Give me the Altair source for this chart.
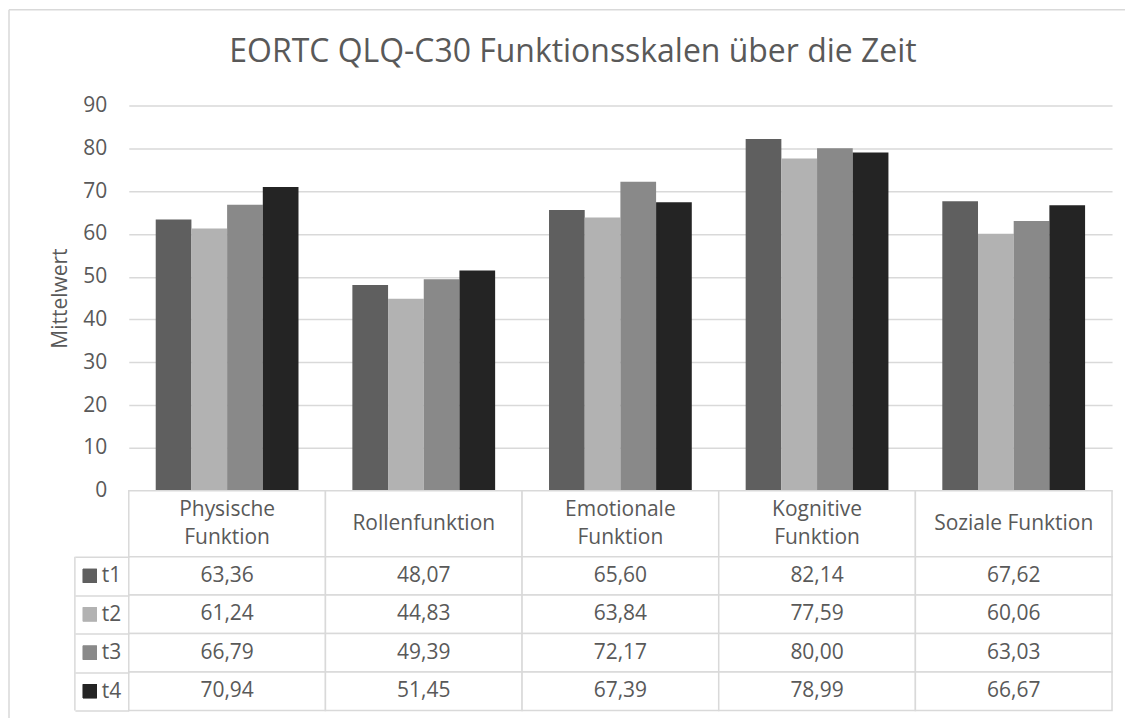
import altair as alt
import pandas as pd

categories = ["Physische Funktion", "Rollenfunktion", "Emotionale Funktion",
              "Kognitive Funktion", "Soziale Funktion"]
header_line1 = ["Physische", "Rollenfunktion", "Emotionale", "Kognitive", "Soziale Funktion"]
header_line2 = ["Funktion", "", "Funktion", "Funktion", ""]
series = ["t1", "t2", "t3", "t4"]
t1 = [63.36, 48.07, 65.60, 82.14, 67.62]
t2 = [61.24, 44.83, 63.84, 77.59, 60.06]
t3 = [66.79, 49.39, 72.17, 80.00, 63.03]
t4 = [70.94, 51.45, 67.39, 78.99, 66.67]
colors = ["#5f5f5f", "#b2b2b2", "#898989", "#242424"]

FONT = "Open Sans"
FS = 21
TXT = "#595959"
LINE = "#d9d9d9"

rows = []
for s, vals in zip(series, [t1, t2, t3, t4]):
    for c, v in zip(categories, vals):
        rows.append({"category": c, "series": s, "value": v,
                     "label": f"{v:.2f}".replace(".", ",")})
df = pd.DataFrame(rows)
df_head = pd.DataFrame({"category": categories, "l1": header_line1, "l2": header_line2})
df_head["two"] = df_head["l2"] != ""

W = 985
color = alt.Color("series:N", scale=alt.Scale(domain=series, range=colors), legend=None)

bar_chart = alt.Chart(df).mark_bar().encode(
    x=alt.X("category:N", sort=categories,
            scale=alt.Scale(paddingInner=0.274, paddingOuter=0.137), axis=None),
    xOffset=alt.XOffset("series:N", sort=series),
    y=alt.Y("value:Q", scale=alt.Scale(domain=[0, 90], nice=False),
            axis=alt.Axis(values=list(range(0, 91, 10)), title="Mittelwert",
                          grid=True, gridColor=LINE, gridWidth=1.5,
                          domain=False, ticks=False, labelPadding=22,
                          labelFontSize=FS, labelColor=TXT, labelFont=FONT,
                          titleFontSize=FS, titleColor=TXT, titleFont=FONT,
                          titleFontWeight="normal", titlePadding=12)),
    color=color,
)

# outer chart frame (left and top edges)
frame_left = alt.Chart(df_head.head(1)).mark_rule(color=LINE, strokeWidth=1.5).encode(
    x=alt.value(-120), y=alt.value(-96), y2=alt.value(615))
frame_top = alt.Chart(df_head.head(1)).mark_rule(color=LINE, strokeWidth=1.5).encode(
    x=alt.value(-120), x2=alt.value(998), y=alt.value(-96))

bars = alt.layer(bar_chart, frame_left, frame_top).properties(width=W, height=386)

xcat = alt.X("category:N", sort=categories,
             scale=alt.Scale(paddingInner=0, paddingOuter=0), axis=None)

head_base = alt.Chart(df_head)
header = alt.layer(
    head_base.mark_rect(fill="white", stroke=LINE, strokeWidth=1.5).encode(x=xcat),
    head_base.transform_filter("!datum.two").mark_text(
        fontSize=FS, font=FONT, color=TXT, baseline="middle").encode(x=xcat, text="l1:N"),
    head_base.transform_filter("datum.two").mark_text(
        fontSize=FS, font=FONT, color=TXT, baseline="middle", dy=-14).encode(x=xcat, text="l1:N"),
    head_base.transform_filter("datum.two").mark_text(
        fontSize=FS, font=FONT, color=TXT, baseline="middle", dy=14).encode(x=xcat, text="l2:N"),
).properties(width=W, height=66)

ycat = alt.Y("series:N", sort=series, scale=alt.Scale(paddingInner=0, paddingOuter=0),
             axis=alt.Axis(title=None, tickBand="extent", tickSize=54, tickColor=LINE,
                           tickWidth=1.5, domain=False, labelPadding=-46,
                           labelFontSize=FS, labelColor=TXT, labelFont=FONT))

body = alt.layer(
    alt.Chart(df).mark_rect(fill="white", stroke=LINE, strokeWidth=1.5).encode(x=xcat, y=ycat),
    alt.Chart(df).mark_text(fontSize=FS, font=FONT, color=TXT).encode(
        x=xcat, y=ycat, text="label:N"),
    alt.Chart(df).mark_point(shape="square", filled=True, size=196, opacity=1).encode(
        x=alt.value(-39), y=ycat, color=color),
    alt.Chart(df_head.head(1)).mark_rule(color=LINE, strokeWidth=1.5).encode(
        x=alt.value(-54), y=alt.value(0), y2=alt.value(154)),
).properties(width=W, height=154)

chart = alt.vconcat(bars, header, body, spacing=0, bounds="flush").properties(
    title=alt.TitleParams("EORTC QLQ-C30 Funktionsskalen über die Zeit",
                          fontSize=32, font=FONT, color=TXT, fontWeight="normal",
                          anchor="middle", offset=-60, dx=6),
    padding={"left": 0, "top": 0, "right": 0, "bottom": 0},
).configure_view(stroke=None)

chart.save("out.html", embed_options={"renderer": "svg", "actions": False})
